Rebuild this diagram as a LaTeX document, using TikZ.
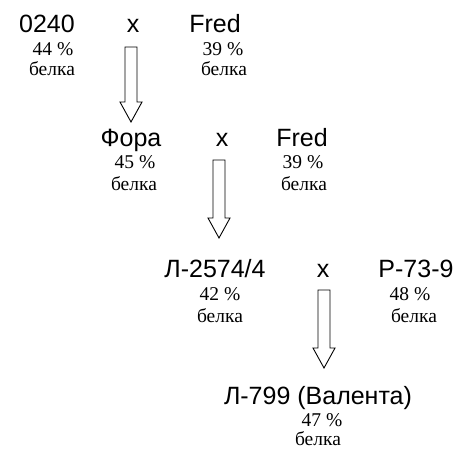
\documentclass[tikz,border=0pt]{standalone}
\usepackage{fontspec}
\setmainfont{Liberation Serif}
\newfontfamily\namefont{Liberation Sans}
\usetikzlibrary{calc}

\tikzset{
  variety/.style={font=\namefont\fontsize{25}{29}\selectfont, anchor=base, inner sep=0pt},
  protein/.style={font=\fontsize{19.5}{22}\selectfont, anchor=base, inner sep=0pt},
  blockarr/.style={draw, line width=0.9pt, line join=miter},
}

% hollow arrow from its top (#1) to its tip (#2)
\newcommand{\crossarrow}[2]{%
  \draw[blockarr] ($(#1)+(-6,0)$) -- ($(#2)+(-6,-20)$) -- ($(#2)+(-11,-20)$)
    -- (#2) -- ($(#2)+(11,-20)$) -- ($(#2)+(6,-20)$) -- ($(#1)+(6,0)$) -- cycle;}

\begin{document}
\begin{tikzpicture}[x=1pt,y=-1pt]
\useasboundingbox (0,0) rectangle (455,449);
% first cross
\node[variety] (p1) at (47,33) {0240};
\node[variety] (x1) at (133,33) {x};
\node[variety] (q1) at (215,33) {Fred};
\node[protein] (p1a) at (53,56) {44 \%};
\node[protein] (p1b) at (52,76) {белка};
\node[protein] (q1a) at (223,56) {39 \%};
\node[protein] (q1b) at (224,76) {белка};
% second cross
\node[variety] (p2) at (131,147) {Фора};
\node[variety] (x2) at (222,147) {x};
\node[variety] (q2) at (302,147) {Fred};
\node[protein] (p2a) at (135,169) {45 \%};
\node[protein] (p2b) at (134,191) {белка};
\node[protein] (q2a) at (303,169) {39 \%};
\node[protein] (q2b) at (304,191) {белка};
% third cross
\node[variety] (p3) at (215,277) {Л-2574/4};
\node[variety] (x3) at (323,277) {x};
\node[variety] (q3) at (416,277) {Р-73-9};
\node[protein] (p3a) at (220,300) {42 \%};
\node[protein] (p3b) at (220,322) {белка};
\node[protein] (q3a) at (410,300) {48 \%};
\node[protein] (q3b) at (414,322) {белка};
% result
\node[variety] (r) at (318,404) {Л-799 (Валента)};
\node[protein] (ra) at (322,426) {47 \%};
\node[protein] (rb) at (318,445) {белка};
% arrows
\coordinate (a1) at (131,47);  \coordinate (t1) at (131,122);
\coordinate (a2) at (219,160); \coordinate (t2) at (219,238);
\coordinate (a3) at (324,290); \coordinate (t3) at (324,368);
\crossarrow{a1}{t1}
\crossarrow{a2}{t2}
\crossarrow{a3}{t3}
\end{tikzpicture}
\end{document}
